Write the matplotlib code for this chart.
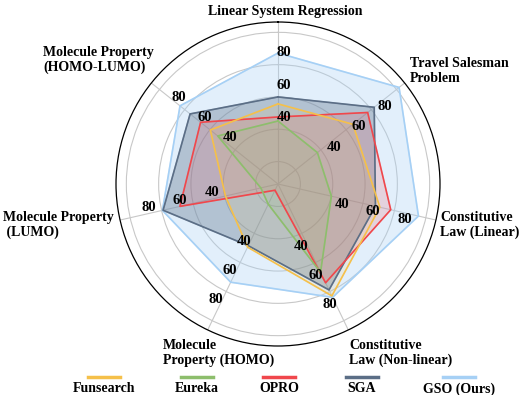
import numpy as np
import matplotlib
matplotlib.use("Agg")
import matplotlib.pyplot as plt
from matplotlib.lines import Line2D

plt.rcParams['font.family'] = ['Liberation Serif', 'DejaVu Serif']
plt.rcParams['font.weight'] = 'bold'

# axes, clockwise from the top
categories = ["Linear System Regression", "Travel Salesman\nProblem",
              "Constitutive\nLaw (Linear)", "Constitutive\nLaw (Non-linear)",
              "Molecule\nProperty (HOMO)", "Molecule Property\n (LUMO)",
              "Molecule Property\n(HOMO-LUMO)"]

methods = ["Funsearch", "Eureka", "OPRO", "SGA", "GSO (Ours)"]
funsearch = [55.7, 65.4, 70.8, 83.0, 49.5, 39.5, 59.7]
eureka = [45.1, 37.3, 40.0, 66.8, 20.0, 17.0, 53.8]
opro = [47.6, 77.1, 77.7, 74.0, 10.4, 68.4, 67.4]
sga = [60.0, 82.3, 68.0, 78.9, 48.5, 79.1, 75.7]
gso = [87.2, 102.0, 95.3, 84.0, 73.6, 79.5, 83.7]

tick_vals = [40, 60, 80]
colors = ["#F5C04A", "#8DBE6C", "#F0474C", "#5B6E86", "#A6D0F5"]
fill_alpha = [0.12, 0.15, 0.17, 0.35, 0.32]

W, H = 521, 395
fig = plt.figure(figsize=(W / 100, H / 100), dpi=100)

cx, cy, R = 278, 184, 162
ax = fig.add_axes([(cx - R) / W, 1 - (cy + R) / H, 2 * R / W, 2 * R / H],
                  projection='polar')
ax.set_theta_offset(np.pi / 2)
ax.set_theta_direction(-1)
rmin, rmax = 6.1, 106.4
ax.set_ylim(rmin, rmax)

n = len(categories)
angles = np.linspace(0, 2 * np.pi, n, endpoint=False)
ax.set_xticks(angles)
ax.set_xticklabels([])
ax.set_yticks([20, 40, 60, 80, 100])
ax.set_yticklabels([])
ax.grid(color="#C8C8C8", linewidth=0.8)
ax.spines['polar'].set_color('black')
ax.spines['polar'].set_linewidth(0.9)

series = [gso, sga, opro, funsearch, eureka]
order = [4, 3, 2, 0, 1]
closed = np.concatenate([angles, angles[:1]])
for vals, i in zip(series, order):
    v = np.array(vals + vals[:1])
    ax.fill(closed, v, color=colors[i], alpha=fill_alpha[i], zorder=2)
    ax.plot(closed, v, color=colors[i], linewidth=1.2, zorder=3)

# radial tick labels along each spoke, nudged clockwise
px_per_unit = R / (rmax - rmin)
for a in angles:
    for t in tick_vals:
        r = t + 7.5
        rp = (r - rmin) * px_per_unit
        ax.text(a + 6.0 / rp, r, str(t), fontsize=10.5, fontweight='bold',
                ha='center', va='center', zorder=5)

# category labels
label_pos = [(285, 12, 'center'), (410, 71, 'left'), (440, 225, 'left'),
             (349, 353, 'left'), (163, 353, 'left'), (3, 225, 'left'),
             (43, 60, 'left')]
for text, (x, y, ha) in zip(categories, label_pos):
    fig.text(x / W, 1 - y / H, text, fontsize=10, fontweight='bold',
             ha=ha, va='center', linespacing=1.2)

# legend: colour bar above each name
leg_x = [104, 197, 279, 362, 459]
for name, c, x in zip(methods, colors, leg_x):
    fig.add_artist(Line2D([(x - 16) / W, (x + 16) / W], [1 - 377 / H] * 2,
                          color=c, linewidth=2.5, transform=fig.transFigure))
    fig.text(x / W, 1 - 389 / H, name, fontsize=10, fontweight='bold',
             ha='center', va='center')

fig.savefig("out.png", dpi=100)
